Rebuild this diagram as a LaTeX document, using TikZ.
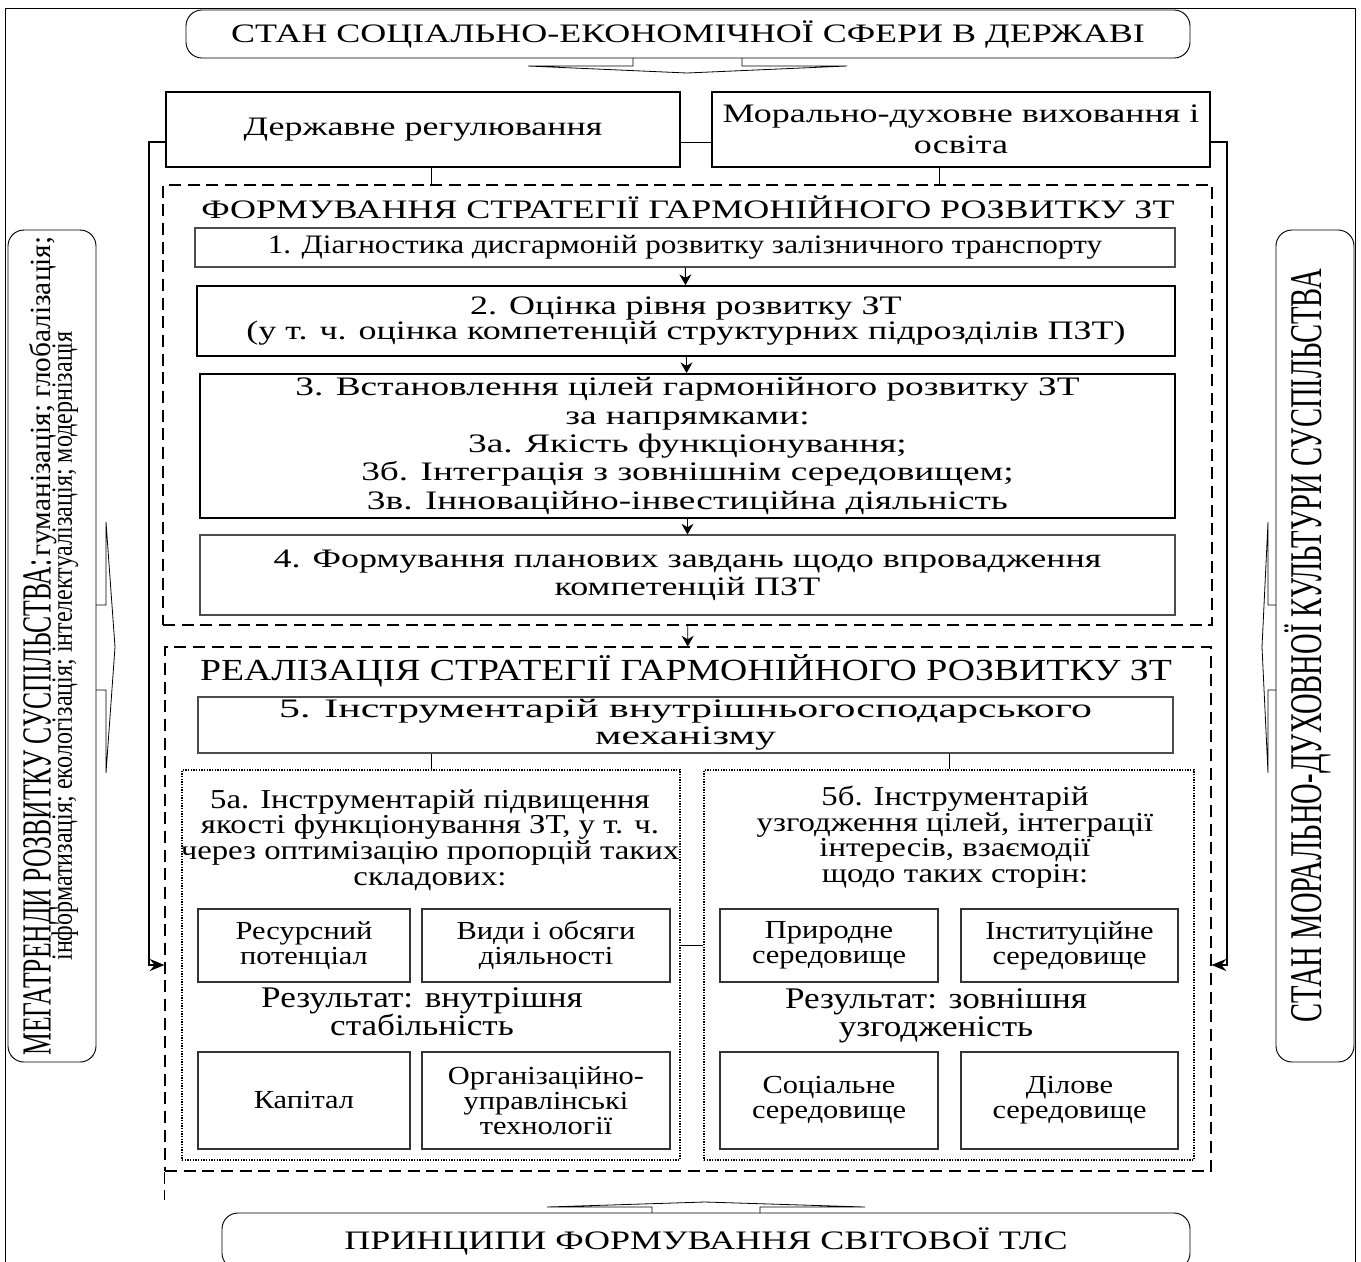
\documentclass[tikz,border=0pt]{standalone}
\usepackage{fontspec}
\setmainfont{Liberation Serif}
\newfontfamily\condcaps[FakeStretch=0.62]{Liberation Serif}
\newfontfamily\condlow[FakeStretch=0.82]{Liberation Serif}
\newfontfamily\condright[FakeStretch=0.63]{Liberation Serif}
\newfontfamily\wideA[FakeStretch=1.17]{Liberation Serif}
\newfontfamily\wideT[FakeStretch=1.2]{Liberation Serif}
\newfontfamily\wideR[FakeStretch=1.23]{Liberation Serif}
\newfontfamily\wideB[FakeStretch=1.35]{Liberation Serif}
\newfontfamily\wideC[FakeStretch=1.4]{Liberation Serif}
\newfontfamily\wideE[FakeStretch=1.57]{Liberation Serif}
\usetikzlibrary{arrows.meta}

\begin{document}
\begin{tikzpicture}[x=0.75pt,y=0.75pt,yscale=-1,xscale=1,
  every node/.style={inner sep=0pt, align=center},
  sz/.style 2 args={minimum width=#1*0.75pt, minimum height=#2*0.75pt},
  thickbox/.style={draw, line width=1.4pt},
  thinbox/.style={draw=black!70, line width=0.8pt},
  smallbox/.style={draw=black!80, line width=0.9pt},
  roundbox/.style={draw, line width=0.7pt, rounded corners=12pt},
  dashbox/.style={draw, line width=0.8pt, dash pattern=on 9pt off 5pt},
  dotbox/.style={draw, line width=0.9pt, dash pattern=on 0.9pt off 1.1pt},
  arr/.style={-{Stealth[length=8pt,width=9pt]}, line width=0.7pt},
  sidearr/.style={-{Stealth[length=11pt,width=9pt]}, line width=1.3pt},
  blockarrow/.style={line width=0.6pt, line join=miter},
]
\useasboundingbox (0,0) rectangle (1361,1261);
\clip (0,0) rectangle (1361,1261);

% outer frame
\draw [line width=0.7pt] (5,1280) -- (5,8) -- (1355,8) -- (1355,1280);

% top and bottom
\node (sotsek) at (688,34) [roundbox, sz={1004}{48}, font=\wideB\fontsize{20}{20}\selectfont] {СТАН СОЦІАЛЬНО-ЕКОНОМІЧНОЇ СФЕРИ В ДЕРЖАВІ};
\draw [blockarrow] (633,58) -- (633,66) -- (528,66) -- (687,73) -- (847,66) -- (742,66) -- (742,58);

\node (pryntsypy) at (706,1241) [roundbox, sz={968}{56}, font=\wideB\fontsize{20}{20}\selectfont] {ПРИНЦИПИ ФОРМУВАННЯ СВІТОВОЇ ТЛС};
\draw [blockarrow] (652,1213) -- (652,1207) -- (547,1207) -- (705,1202) -- (865,1207) -- (760,1207) -- (760,1213);

% side boxes
\node (megatrend) at (52,646) [roundbox, sz={88}{832}] {\rotatebox{90}{\raisebox{1pt}[\height][\depth]{\begin{tabular}{@{}c@{}}
  {\condcaps\fontsize{31}{30}\selectfont МЕГАТРЕНДИ РОЗВИТКУ СУСПІЛЬСТВА:} {\fontsize{22}{20}\selectfont гуманізація; глобалізація;}\\[-6pt]
  {\condlow\fontsize{22}{20}\selectfont інформатизація; екологізація; інтелектуалізація; модернізація}
  \end{tabular}}}};
\draw [blockarrow] (96,605) -- (106,605) -- (106,522) -- (115,647) -- (106,773) -- (106,690) -- (96,690);

\node (kultura) at (1315,646) [roundbox, sz={78}{832}] {\rotatebox{90}{\raisebox{5pt}[\height][\depth]{\condright\fontsize{34}{30}\selectfont СТАН МОРАЛЬНО-ДУХОВНОЇ КУЛЬТУРИ СУСПІЛЬСТВА}}};
\draw [blockarrow] (1276,605) -- (1268,605) -- (1268,522) -- (1262,647) -- (1268,773) -- (1268,690) -- (1276,690);

% regulation
\node (derzh) at (423,129.5) [thickbox, sz={514}{75}, font=\wideB\fontsize{20}{23}\selectfont] {Державне регулювання};
\node (moral) at (961,129.5) [thickbox, sz={498}{75}, font=\wideB\fontsize{20}{23}\selectfont] {Морально-духовне виховання і\\освіта};

% formation block
\node (form) at (687.5,405) [dashbox, sz={1049}{440}] {};
\node (formtitle) at (688,207) [font=\wideB\fontsize{20}{20}\selectfont] {ФОРМУВАННЯ СТРАТЕГІЇ ГАРМОНІЙНОГО РОЗВИТКУ ЗТ};
\node (d1) at (685,247.5) [thinbox, sz={980}{39}, font=\wideA\fontsize{20}{20}\selectfont] {1. Діагностика дисгармоній розвитку залізничного транспорту};
\node (d2) at (686,321) [thickbox, sz={978}{70}, font=\wideB\fontsize{20}{18}\selectfont] {2. Оцінка рівня розвитку ЗТ\\(у т. ч. оцінка компетенцій структурних підрозділів ПЗТ)};
\node (d3) at (687.5,446) [thickbox, sz={975}{144}, font=\wideC\fontsize{20}{21.3}\selectfont] {3. Встановлення цілей гармонійного розвитку ЗТ\\за напрямками:\\3а. Якість функціонування;\\3б. Інтеграція з зовнішнім середовищем;\\3в. Інноваційно-інвестиційна діяльність};
\node (d4) at (687.5,575) [thinbox, sz={975}{80}, font=\wideB\fontsize{20}{21}\selectfont] {4. Формування планових завдань щодо впровадження\\компетенцій ПЗТ};

% realisation block
\node (realiz) at (688,909) [dashbox, sz={1046}{524}] {};
\draw [dashbox] (realiz.south west) -- ++(0,28);
\node (realtitle) at (686,671) [font=\wideR\fontsize{23}{23}\selectfont] {РЕАЛІЗАЦІЯ СТРАТЕГІЇ ГАРМОНІЙНОГО РОЗВИТКУ ЗТ};
\node (d5) at (685.5,725) [thinbox, sz={975}{56}, font=\wideE\fontsize{20}{20}\selectfont] {5. Інструментарій внутрішньогосподарського\\механізму};

\node (fivea) at (431,965) [dotbox, sz={498}{390}] {};
\node (fiveatitle) at (430,840) [font=\wideT\fontsize{20.5}{19.3}\selectfont] {5а. Інструментарій підвищення\\якості функціонування ЗТ, у т. ч.\\через оптимізацію пропорцій таких\\складових:};
\node (resurs) at (304,945.5) [smallbox, sz={212}{73}, font=\wideA\fontsize{19.5}{18.8}\selectfont] {Ресурсний\\потенціал};
\node (vydy) at (546,945.5) [smallbox, sz={248}{73}, font=\wideA\fontsize{19.5}{18.8}\selectfont] {Види і обсяги\\діяльності};
\node (resulta) at (422,1012) [font=\wideA\fontsize{22.5}{21}\selectfont] {Результат: внутрішня\\стабільність};
\node (kapital) at (304,1100.5) [smallbox, sz={212}{97}, font=\wideA\fontsize{19.5}{18.8}\selectfont] {Капітал};
\node (orgtech) at (546,1100.5) [smallbox, sz={248}{97}, font=\wideA\fontsize{19.5}{18.8}\selectfont] {Організаційно-\\управлінські\\технології};

\node (fiveb) at (949,965) [dotbox, sz={490}{390}] {};
\node (fivebtitle) at (955,837) [font=\wideT\fontsize{20.5}{19.3}\selectfont] {5б. Інструментарій\\узгодження цілей, інтеграції\\інтересів, взаємодії\\щодо таких сторін:};
\node (pryroda) at (829,945.5) [smallbox, sz={218}{73}, font=\wideA\fontsize{19.5}{18.8}\selectfont] {Природне\\середовище};
\node (instyt) at (1069.5,945.5) [smallbox, sz={217}{73}, font=\wideA\fontsize{19.5}{18.8}\selectfont] {Інституційне\\середовище};
\node (resultb) at (936,1016) [font=\wideA\fontsize{22.5}{21}\selectfont] {Результат: зовнішня\\узгодженість};
\node (sotsial) at (829,1100.5) [smallbox, sz={218}{97}, font=\wideA\fontsize{19.5}{18.8}\selectfont] {Соціальне\\середовище};
\node (dilove) at (1069.5,1100.5) [smallbox, sz={217}{97}, font=\wideA\fontsize{19.5}{18.8}\selectfont] {Ділове\\середовище};

% connectors
\path ([xshift=-16.5pt]moral.south) coordinate (moraldown);
\draw [line width=0.8pt] ([yshift=9.4pt]derzh.east) -- ([yshift=9.4pt]moral.west);
\draw [sidearr] ([yshift=9.4pt]derzh.west) -- ++(-16,0) |- ([yshift=42pt]realiz.west);
\draw [sidearr] ([yshift=9.4pt]moral.east) -- ++(16,0) |- ([yshift=42pt]realiz.east);
\draw [line width=0.7pt] (derzh.south -| fivea.north) -- (form.north -| fivea.north);
\draw [line width=0.7pt] (moraldown) -- (moraldown |- form.north);
\draw [arr] (d1) -- (d2);
\draw [arr] (d2) -- (d3);
\draw [arr] (d3) -- (d4);
\draw [arr] (form) -- (realiz);
\draw [line width=0.7pt] (d5.south -| fivea.north) -- (fivea.north);
\draw [line width=0.7pt] (d5.south -| fiveb.north) -- (fiveb.north);
\draw [line width=0.7pt] (fivea.east |- vydy.east) -- (fiveb.west |- pryroda.west);
\end{tikzpicture}
\end{document}
